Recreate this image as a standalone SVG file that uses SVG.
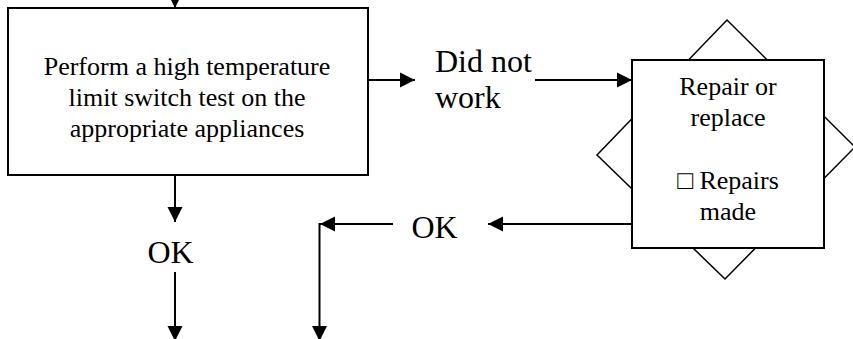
<svg xmlns="http://www.w3.org/2000/svg" width="853" height="339" viewBox="0 0 853 339" font-family="'Liberation Serif', 'Times New Roman', 'DejaVu Serif', serif">
<defs>
<style>
.box{fill:#fff;stroke:#000;stroke-width:2}
.dia{fill:#fff;stroke:#000;stroke-width:1.5}
.ln{fill:none;stroke:#000;stroke-width:2}
text{font-family:'Liberation Serif','Times New Roman','DejaVu Serif',serif;fill:#000}
.s{font-size:26px}
.b{font-size:32px}
</style>
<marker id="ah" markerUnits="userSpaceOnUse" markerWidth="16" markerHeight="16" viewBox="0 0 16 16" refX="15" refY="8" orient="auto">
<path d="M0,0.5 L15,8 L0,15.5 Z" fill="#000"/>
</marker>
</defs>
<g id="connectors">
<line class="ln" x1="175" y1="-12" x2="175" y2="8" marker-end="url(#ah)"/>
<line class="ln" x1="368" y1="80" x2="415" y2="80" marker-end="url(#ah)"/>
<line class="ln" x1="535" y1="80" x2="632" y2="80" marker-end="url(#ah)"/>
<line class="ln" x1="175" y1="176" x2="175" y2="222" marker-end="url(#ah)"/>
<line class="ln" x1="175" y1="272" x2="175" y2="341" marker-end="url(#ah)"/>
<line class="ln" x1="633" y1="224" x2="488" y2="224" marker-end="url(#ah)"/>
<line class="ln" x1="393" y1="224" x2="320" y2="224" marker-end="url(#ah)"/>
<line class="ln" x1="319.5" y1="223" x2="319.5" y2="341" marker-end="url(#ah)"/>
</g>
<g id="test-box">
<rect class="box" x="8" y="8" width="360" height="167"/>
<text class="s" text-anchor="middle" x="187" y="75">Perform a high temperature</text>
<text class="s" text-anchor="middle" x="187" y="106">limit switch test on the</text>
<text class="s" text-anchor="middle" x="187" y="137">appropriate appliances</text>
</g>
<g id="did-not-work">
<text class="b" x="435" y="72">Did not</text>
<text class="b" x="435" y="108">work</text>
</g>
<g id="repair-box">
<polygon class="dia" points="727,20 855,147 725,279 597,155"/>
<rect class="box" x="632" y="60" width="192" height="188"/>
<text class="s" text-anchor="middle" x="728" y="95">Repair or</text>
<text class="s" text-anchor="middle" x="728" y="126">replace</text>
<text class="s" text-anchor="middle" x="728" y="189">□ Repairs</text>
<text class="s" text-anchor="middle" x="728" y="220">made</text>
</g>
<g id="ok-left">
<text class="b" x="147.5" y="263">OK</text>
</g>
<g id="ok-right">
<text class="b" x="411.5" y="238">OK</text>
</g>
</svg>
